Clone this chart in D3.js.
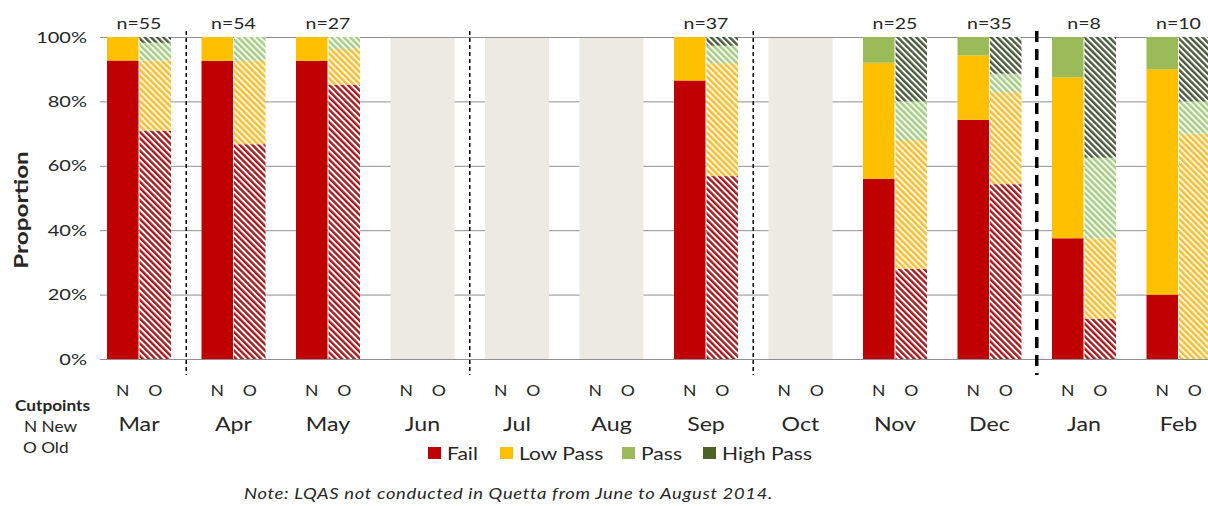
<!DOCTYPE html>
<html>
<head>
<meta charset="utf-8">
<script src="https://cdn.jsdelivr.net/npm/d3@7"></script>
<style>
  body { margin: 0; background: #fff; }
  svg text { font-family: Lato, "Open Sans", sans-serif; fill: #262626; }
</style>
</head>
<body>
<div id="chart"></div>
<script>
"use strict";

//months on the category axis, null = no LQAS round that month
var months = ["Mar", "Apr", "May", "Jun", "Jul", "Aug", "Sep", "Oct", "Nov", "Dec", "Jan", "Feb"];
var sampleSizes = [55, 54, 27, null, null, null, 37, null, 25, 35, 8, 10];

//percent of lots per category, N = new cutpoints
var newFail = [92.7, 92.6, 92.6, null, null, null, 86.5, null, 56, 74.3, 37.5, 20];
var newLowPass = [7.3, 7.4, 7.4, null, null, null, 13.5, null, 36, 20, 50, 70];
var newPass = [0, 0, 0, null, null, null, 0, null, 8, 5.7, 12.5, 10];
var newHighPass = [0, 0, 0, null, null, null, 0, null, 0, 0, 0, 0];

//O = old cutpoints
var oldFail = [70.9, 66.7, 85.2, null, null, null, 56.8, null, 28, 54.3, 12.5, 0];
var oldLowPass = [21.8, 25.9, 11.1, null, null, null, 35.1, null, 40, 28.6, 25, 70];
var oldPass = [5.5, 7.4, 3.7, null, null, null, 5.4, null, 12, 5.7, 25, 10];
var oldHighPass = [1.8, 0, 0, null, null, null, 2.7, null, 20, 11.4, 37.5, 20];

var categories = ["Fail", "Low Pass", "Pass", "High Pass"];
var cutpoints = ["N", "O"];
var yTicks = [0, 20, 40, 60, 80, 100];

//dashed separators sit after these months, the last one is heavy
var separators = [
  { after: "Mar", heavy: false },
  { after: "Jun", heavy: false },
  { after: "Sep", heavy: false },
  { after: "Dec", heavy: true }
];

var w = 1208,
  h = 506,
  plotTop = 37,
  plotBottom = 359,
  plotLeft = 100;

var solidColors = ["#C00000", "#FFC000", "#9BBB59", "#4F6228"];
var stripeColors = ["#A3191C", "#F3BE3A", "#A8CC88", "#4A5A3C"];
var stripeBacks = ["#ffffff", "#FFF6D8", "#F4FAEE", "#ffffff"];

//the source font is a wide one, so glyphs get stretched sideways
var stretchX = 1.22;

function stretch(sel, k) {
  sel.each(function() {
    var t = d3.select(this);
    var x = +t.attr("x") || 0,
      y = +t.attr("y") || 0;
    t.attr("x", 0)
      .attr("y", 0)
      .attr("transform", "translate(" + x + "," + y + ") scale(" + (k || stretchX) + ",1)");
  });
}

var svg = d3
  .select("#chart")
  .append("svg")
  .attr("width", w)
  .attr("height", h);

//hatch patterns for old cutpoint bars
var defs = svg.append("defs");
categories.forEach(function(c, i) {
  var p = defs
    .append("pattern")
    .attr("id", "hatch" + i)
    .attr("patternUnits", "userSpaceOnUse")
    .attr("width", 4.4)
    .attr("height", 4.4)
    .attr("patternTransform", "rotate(-45)");
  p.append("rect")
    .attr("width", 4.4)
    .attr("height", 4.4)
    .attr("fill", stripeBacks[i]);
  p.append("rect")
    .attr("width", 2.4)
    .attr("height", 4.4)
    .attr("fill", stripeColors[i]);
});

var x0 = d3
  .scaleBand()
  .domain(months)
  .range([91.75, 91.75 + 94.5 * months.length]);

var x1 = d3
  .scaleBand()
  .domain(cutpoints)
  .range([x0.bandwidth() / 2 - 32, x0.bandwidth() / 2 + 32])
  .paddingInner(0.03);

var y = d3
  .scaleLinear()
  .domain([0, 100])
  .range([plotBottom, plotTop]);

//gridlines and tick labels
var yAxis = svg
  .append("g")
  .attr("transform", "translate(" + plotLeft + ",0)")
  .call(
    d3
      .axisLeft(y)
      .tickValues(yTicks)
      .tickFormat(function(d) {
        return d + "%";
      })
      .tickSizeInner(-(w - plotLeft))
      .tickSizeOuter(0)
      .tickPadding(13)
  );
yAxis.select(".domain").remove();
yAxis.selectAll("line").attr("stroke", "#8f8f8f");
yAxis
  .selectAll("text")
  .style("font-size", "16px")
  .attr("fill", "#3a3a3a")
  .call(stretch, 1.25);

//months without data get a grey band
svg
  .append("g")
  .selectAll("rect")
  .data(
    months.filter(function(m, i) {
      return newFail[i] === null;
    })
  )
  .enter()
  .append("rect")
  .attr("x", function(d) {
    return x0(d) + x1("N");
  })
  .attr("width", x1("O") + x1.bandwidth() - x1("N"))
  .attr("y", y(100) + 1)
  .attr("height", y(0) - y(100) - 1)
  .attr("fill", "#ECEAE2");

//one row per month and cutpoint
var rows = [];
months.forEach(function(m, i) {
  if (newFail[i] === null) return;
  rows.push({
    month: m,
    cut: "N",
    Fail: newFail[i],
    "Low Pass": newLowPass[i],
    Pass: newPass[i],
    "High Pass": newHighPass[i]
  });
  rows.push({
    month: m,
    cut: "O",
    Fail: oldFail[i],
    "Low Pass": oldLowPass[i],
    Pass: oldPass[i],
    "High Pass": oldHighPass[i]
  });
});

var series = d3.stack().keys(categories)(rows);

svg
  .append("g")
  .selectAll("g")
  .data(series)
  .enter()
  .append("g")
  .each(function(s, si) {
    d3.select(this)
      .selectAll("rect")
      .data(s)
      .enter()
      .append("rect")
      .attr("x", function(d) {
        return x0(d.data.month) + x1(d.data.cut);
      })
      .attr("width", x1.bandwidth())
      .attr("y", function(d) {
        return y(d[1]);
      })
      .attr("height", function(d) {
        return y(d[0]) - y(d[1]);
      })
      .attr("fill", function(d) {
        return d.data.cut === "N" ? solidColors[si] : "url(#hatch" + si + ")";
      });
  });

//sample sizes above the bars
svg
  .append("g")
  .selectAll("text")
  .data(
    months.filter(function(m, i) {
      return sampleSizes[i] !== null;
    })
  )
  .enter()
  .append("text")
  .attr("x", function(d) {
    return x0(d) + x0.bandwidth() / 2;
  })
  .attr("y", 29)
  .attr("text-anchor", "middle")
  .style("font-size", "16px")
  .text(function(d) {
    return "n=" + sampleSizes[months.indexOf(d)];
  })
  .call(stretch);

//separators
svg
  .append("g")
  .selectAll("line")
  .data(separators)
  .enter()
  .append("line")
  .attr("x1", function(d) {
    return x0(d.after) + x0.step();
  })
  .attr("x2", function(d) {
    return x0(d.after) + x0.step();
  })
  .attr("y1", 31)
  .attr("y2", 375)
  .attr("stroke", "#000")
  .attr("stroke-width", function(d) {
    return d.heavy ? 3.5 : 1.5;
  })
  .attr("stroke-dasharray", function(d) {
    return d.heavy ? "11,7" : "4,3";
  });

//N / O under each bar and month names
var cutLabels = svg.append("g");
months.forEach(function(m) {
  cutpoints.forEach(function(c) {
    cutLabels
      .append("text")
      .attr("x", x0(m) + x1(c) + x1.bandwidth() / 2)
      .attr("y", 396)
      .attr("text-anchor", "middle")
      .style("font-size", "16px")
      .text(c);
  });
});
cutLabels.selectAll("text").call(stretch, 1.1);

svg
  .append("g")
  .selectAll("text")
  .data(months)
  .enter()
  .append("text")
  .attr("x", function(d) {
    return x0(d) + x0.bandwidth() / 2;
  })
  .attr("y", 431)
  .attr("text-anchor", "middle")
  .style("font-size", "19px")
  .text(function(d) {
    return d;
  })
  .call(stretch);

//axis title
svg
  .append("text")
  .attr("transform", "translate(28,210) rotate(-90) scale(1.35,1)")
  .attr("text-anchor", "middle")
  .style("font-size", "18px")
  .style("font-weight", "bold")
  .attr("fill", "#000")
  .text("Proportion");

//cutpoint key
var key = svg.append("g");
key
  .append("text")
  .attr("x", 15)
  .attr("y", 411)
  .style("font-size", "15px")
  .style("font-weight", "bold")
  .text("Cutpoints");
key
  .append("text")
  .attr("x", 24)
  .attr("y", 432)
  .style("font-size", "15px")
  .text("N New");
key
  .append("text")
  .attr("x", 23)
  .attr("y", 453)
  .style("font-size", "15px")
  .text("O Old");
key.selectAll("text").call(stretch, 1.15);

//legend
var legendX = [428, 500, 622, 703];
var legend = svg
  .append("g")
  .selectAll("g")
  .data(categories)
  .enter()
  .append("g")
  .attr("transform", function(d, i) {
    return "translate(" + legendX[i] + ",447)";
  });
legend
  .append("rect")
  .attr("width", 13)
  .attr("height", 12)
  .attr("fill", function(d, i) {
    return solidColors[i];
  });
legend
  .append("text")
  .attr("x", 19)
  .attr("y", 13)
  .style("font-size", "18px")
  .text(function(d) {
    return d;
  })
  .call(stretch, 1.17);

//footnote
svg
  .append("text")
  .attr("x", 244)
  .attr("y", 499)
  .attr("textLength", 529)
  .attr("lengthAdjust", "spacingAndGlyphs")
  .style("font-family", "Lato, sans-serif")
  .style("font-style", "italic")
  .style("font-size", "16px")
  .style("letter-spacing", "0.6px")
  .attr("fill", "#8a8a8a")
  .text("Note: LQAS not conducted in Quetta from June to August 2014.");
</script>
</body>
</html>
